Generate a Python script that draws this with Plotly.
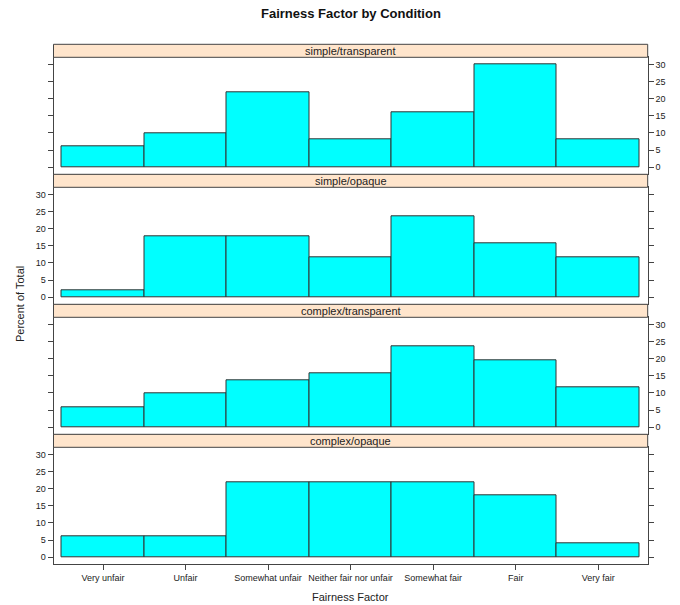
import plotly.graph_objects as go

categories = ["Very unfair", "Unfair", "Somewhat unfair", "Neither fair nor unfair",
              "Somewhat fair", "Fair", "Very fair"]
panel_names = ["simple/transparent", "simple/opaque", "complex/transparent", "complex/opaque"]
simple_transparent = [6.0, 10.0, 22.0, 8.0, 16.0, 30.0, 8.0]
simple_opaque = [1.96, 17.65, 17.65, 11.76, 23.53, 15.69, 11.76]
complex_transparent = [5.88, 9.80, 13.73, 15.69, 23.53, 19.61, 11.76]
complex_opaque = [6.0, 6.0, 22.0, 22.0, 22.0, 18.0, 4.0]
y_ticks = [0, 5, 10, 15, 20, 25, 30]

series = [simple_transparent, simple_opaque, complex_transparent, complex_opaque]

W, H = 680, 605
FONT = "Liberation Sans, Arial, sans-serif"
LINE = "#444444"
TXT = "#222222"

x_left, x_right = 53.5, 647.7
top0 = 44.3
strip_h = 13.0
panel_h = 117.0
step = strip_h + panel_h

positions = list(range(1, len(categories) + 1))
xrange_ = [0.4, len(categories) + 0.6]
yrange_ = [-2.1, 32.1]

fig = go.Figure()
shapes = []
annotations = []
xdom = [x_left / W, x_right / W]

for i, (name, vals) in enumerate(zip(panel_names, series)):
    k = "" if i == 0 else str(i + 1)
    strip_top = top0 + step * i
    data_top = strip_top + strip_h
    data_bot = data_top + panel_h
    fig.add_trace(go.Bar(
        x=positions, y=vals, width=1.0,
        marker=dict(color="#00FFFF", line=dict(color="#333333", width=1)),
        xaxis="x" + k, yaxis="y" + k, showlegend=False,
        hovertemplate="%{y:.1f}<extra></extra>",
    ))
    bottom = (i == len(panel_names) - 1)
    fig.layout["xaxis" + k] = dict(
        domain=xdom, range=xrange_, anchor="y" + k,
        showline=True, mirror=True, linecolor=LINE, linewidth=1,
        showgrid=False, zeroline=False,
        tickmode="array", tickvals=positions, ticktext=categories,
        ticks="outside" if bottom else "", ticklen=5, tickcolor=LINE,
        showticklabels=bottom,
        tickfont=dict(family=FONT, size=9, color=TXT),
        fixedrange=True,
    )
    fig.layout["yaxis" + k] = dict(
        domain=[(H - data_bot) / H, (H - data_top) / H], range=yrange_,
        anchor="x" + k, side="right" if i % 2 == 0 else "left",
        showline=True, mirror="ticks", linecolor=LINE, linewidth=1,
        showgrid=False, zeroline=False,
        tickmode="array", tickvals=y_ticks,
        ticks="outside", ticklen=5, tickcolor=LINE,
        tickfont=dict(family=FONT, size=9, color=TXT),
        fixedrange=True,
    )
    shapes.append(dict(
        type="rect", xref="paper", yref="paper",
        x0=xdom[0], x1=xdom[1],
        y0=(H - data_top) / H, y1=(H - strip_top) / H,
        fillcolor="#FFE5CC", line=dict(color=LINE, width=1), layer="above",
    ))
    annotations.append(dict(
        text=name, xref="paper", yref="paper",
        x=(xdom[0] + xdom[1]) / 2, y=(H - (strip_top + data_top) / 2) / H,
        showarrow=False, xanchor="center", yanchor="middle",
        font=dict(family=FONT, size=11, color=TXT),
    ))

# top tick marks along the top of the first strip
fig.layout["xaxis5"] = dict(
    overlaying="x", anchor="free", position=(H - top0) / H, side="top",
    range=xrange_, domain=xdom, showline=False, showgrid=False, zeroline=False,
    tickmode="array", tickvals=positions, ticks="outside", ticklen=5,
    tickcolor=LINE, showticklabels=False, fixedrange=True,
)

annotations += [
    dict(text="<b>Fairness Factor by Condition</b>", xref="paper", yref="paper",
         x=(xdom[0] + xdom[1]) / 2, y=(H - 14) / H, showarrow=False,
         xanchor="center", yanchor="middle",
         font=dict(family=FONT, size=13, color="#111111")),
    dict(text="Fairness Factor", xref="paper", yref="paper",
         x=(xdom[0] + xdom[1]) / 2, y=(H - 597) / H, showarrow=False,
         xanchor="center", yanchor="middle",
         font=dict(family=FONT, size=11, color=TXT)),
    dict(text="Percent of Total", xref="paper", yref="paper",
         x=20 / W, y=(H - 304) / H, showarrow=False, textangle=-90,
         xanchor="center", yanchor="middle",
         font=dict(family=FONT, size=11, color=TXT)),
]

fig.update_layout(
    width=W, height=H, margin=dict(l=0, r=0, t=0, b=0),
    paper_bgcolor="white", plot_bgcolor="white",
    shapes=shapes, annotations=annotations, bargap=0,
    font=dict(family=FONT, color=TXT),
)

fig.write_html("out.html", config={"displayModeBar": False},
               post_script="document.body.style.margin='0';document.body.style.overflow='hidden';")
